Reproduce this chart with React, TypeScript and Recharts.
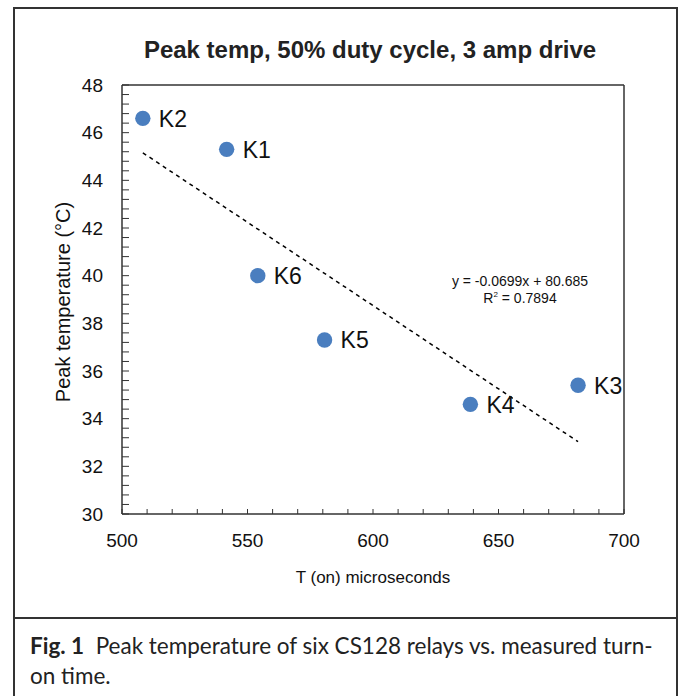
import { ScatterChart, Scatter, XAxis, YAxis, ReferenceLine } from 'recharts'

const relayNames = ['K1', 'K2', 'K3', 'K4', 'K5', 'K6']
const turnOnTimes = [541.7, 508.3, 681.7, 638.8, 580.7, 554.1]
const peakTemps = [45.3, 46.6, 35.4, 34.6, 37.3, 40.0]

const xTicks = [500, 550, 600, 650, 700]
const yTicks = [30, 32, 34, 36, 38, 40, 42, 44, 46, 48]

// linear fit printed on the chart
const slope = -0.0699
const intercept = 80.685

const points = relayNames.map((name, i) => ({ name, x: turnOnTimes[i], y: peakTemps[i] }))

// small inward ticks
const xMinorTicks = Array.from({ length: 21 }, (_, i) => 500 + i * 10)
const yMinorTicks = Array.from({ length: 46 }, (_, i) => Math.round((30 + i * 0.4) * 10) / 10)

const xMin = Math.min(...turnOnTimes)
const xMax = Math.max(...turnOnTimes)
const trend = [
  { x: xMin, y: slope * xMin + intercept },
  { x: xMax, y: slope * xMax + intercept },
]

const FONT = '"Liberation Sans", Arial, Helvetica, sans-serif'
const AXIS = '#333'

function Dot(props: any) {
  const { cx, cy, payload } = props
  return (
    <g>
      <circle cx={cx} cy={cy} r={7.7} fill="#4a7ebf" />
      <text x={cx + 16} y={cy} dy="0.36em" fontSize={23} fill="#111" fontFamily={FONT}>
        {payload.name}
      </text>
    </g>
  )
}

const NoMark = () => <g />
const NoTick = () => <g />

export default function App() {
  return (
    <div style={{ position: 'fixed', left: 0, top: 0, width: 678, height: 696, background: '#fff', overflow: 'hidden', fontFamily: FONT }}>
      {/* outer frame + caption separator */}
      <div style={{ position: 'absolute', left: 13, top: 7, width: 665, height: 720, border: '2px solid #333', boxSizing: 'border-box' }} />
      <div style={{ position: 'absolute', left: 13, top: 617, width: 665, height: 2, background: '#333' }} />

      <div style={{ position: 'absolute', left: 120, top: 36, width: 500, textAlign: 'center', fontSize: 24, fontWeight: 'bold', lineHeight: '28px', color: '#222' }}>
        Peak temp, 50% duty cycle, 3 amp drive
      </div>

      <div style={{ position: 'absolute', left: 0, top: 0 }}>
        <ScatterChart width={678} height={620} margin={{ top: 84, right: 53, bottom: 66, left: 0 }}>
          <XAxis
            dataKey="x"
            type="number"
            domain={[500, 700]}
            ticks={xTicks}
            height={40}
            tickSize={0}
            tickMargin={20}
            axisLine={{ stroke: AXIS, strokeWidth: 1.5 }}
            tick={{ fontSize: 19, fill: '#111', fontFamily: FONT }}
          />
          <XAxis
            xAxisId="minor"
            dataKey="x"
            type="number"
            domain={[500, 700]}
            ticks={xMinorTicks}
            interval={0}
            mirror
            height={1}
            tickSize={5}
            tick={NoTick}
            axisLine={false}
            tickLine={{ stroke: AXIS, strokeWidth: 1 }}
          />
          <XAxis
            xAxisId="top"
            dataKey="x"
            orientation="top"
            type="number"
            domain={[500, 700]}
            height={1}
            tick={false}
            tickLine={false}
            axisLine={{ stroke: AXIS, strokeWidth: 1.5 }}
          />
          <YAxis
            dataKey="y"
            type="number"
            domain={[30, 48]}
            ticks={yTicks}
            width={122}
            tickSize={0}
            tickMargin={19}
            axisLine={{ stroke: AXIS, strokeWidth: 1.5 }}
            tick={{ fontSize: 19, fill: '#111', fontFamily: FONT }}
          />
          <YAxis
            yAxisId="minor"
            dataKey="y"
            type="number"
            domain={[30, 48]}
            ticks={yMinorTicks}
            interval={0}
            mirror
            width={1}
            tickSize={7}
            tick={NoTick}
            axisLine={false}
            tickLine={{ stroke: AXIS, strokeWidth: 1 }}
          />
          <YAxis
            yAxisId="right"
            dataKey="y"
            orientation="right"
            type="number"
            domain={[30, 48]}
            width={1}
            tick={false}
            tickLine={false}
            axisLine={{ stroke: AXIS, strokeWidth: 1.5 }}
          />
          <Scatter data={points} xAxisId="minor" yAxisId="minor" shape={NoMark} isAnimationActive={false} />
          <Scatter data={points} xAxisId="top" yAxisId="right" shape={NoMark} isAnimationActive={false} />
          <ReferenceLine
            segment={trend}
            stroke="#000"
            strokeWidth={1.5}
            strokeDasharray="4 4"
            ifOverflow="extendDomain"
          />
          <Scatter data={points} shape={Dot} isAnimationActive={false} />
        </ScatterChart>
      </div>

      <div style={{ position: 'absolute', left: 63, top: 302, transform: 'translate(-50%, -50%) rotate(-90deg)', whiteSpace: 'nowrap', fontSize: 20, color: '#111' }}>
        Peak temperature (°C)
      </div>
      <div style={{ position: 'absolute', left: 123, top: 567, width: 500, textAlign: 'center', fontSize: 17, lineHeight: '22px', color: '#111' }}>
        T (on) microseconds
      </div>

      <div style={{ position: 'absolute', left: 420, top: 273, width: 200, textAlign: 'center', fontSize: 14, lineHeight: '17px', color: '#111' }}>
        y = -0.0699x + 80.685
        <br />
        R<sup style={{ fontSize: 8, verticalAlign: 'top', lineHeight: '10px' }}>2</sup> = 0.7894
      </div>

      <div style={{ position: 'absolute', left: 30, top: 631, width: 645, fontFamily: 'Lato, "Open Sans", sans-serif', fontSize: 22.5, lineHeight: '30px', color: '#222', whiteSpace: 'nowrap' }}>
        <b>Fig. 1</b>&nbsp; Peak temperature of six CS128 relays vs. measured turn-
        <br />
        on time.
      </div>
    </div>
  )
}
